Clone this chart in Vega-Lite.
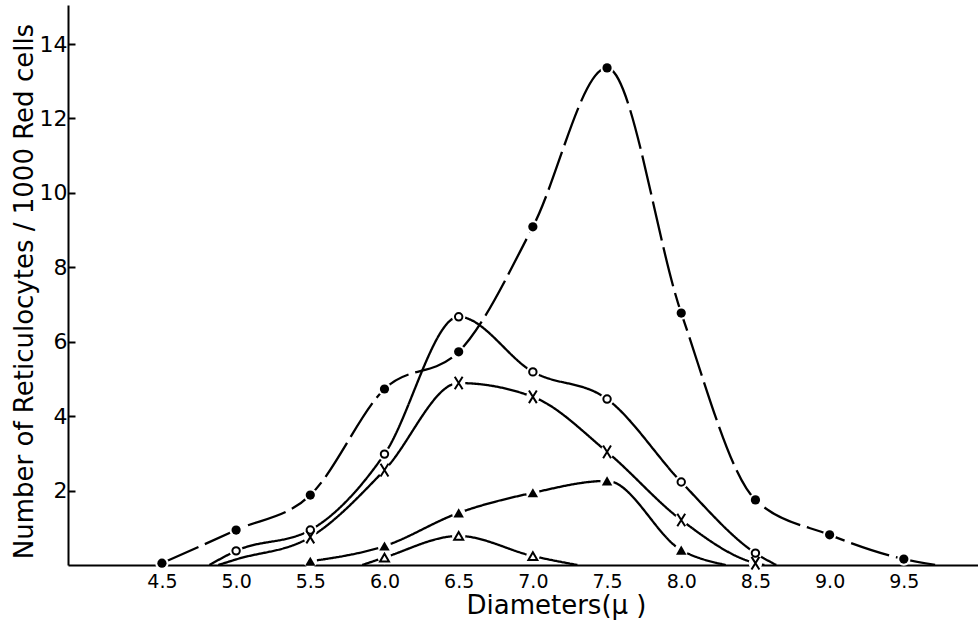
{
  "$schema": "https://vega.github.io/schema/vega-lite/v6.json",
  "width": 910,
  "height": 560,
  "autosize": "none",
  "padding": {"left": 68, "top": 5, "right": 0, "bottom": 59},
  "background": "white",
  "config": {
    "view": {"stroke": null},
    "font": "DejaVu Sans",
    "axis": {"grid": false, "domainColor": "black", "domainWidth": 2, "tickColor": "black", "tickWidth": 2, "labelColor": "black", "titleColor": "black", "titleFontWeight": "normal"}
  },
  "data": {
    "values": [
      {"series": "A", "x": 4.5, "y": 0.05, "pt": true},
      {"series": "A", "x": 5.0, "y": 0.94, "pt": true},
      {"series": "A", "x": 5.5, "y": 1.88, "pt": true},
      {"series": "A", "x": 6.0, "y": 4.73, "pt": true},
      {"series": "A", "x": 6.5, "y": 5.73, "pt": true},
      {"series": "A", "x": 7.0, "y": 9.09, "pt": true},
      {"series": "A", "x": 7.5, "y": 13.36, "pt": true},
      {"series": "A", "x": 8.0, "y": 6.77, "pt": true},
      {"series": "A", "x": 8.5, "y": 1.75, "pt": true},
      {"series": "A", "x": 9.0, "y": 0.81, "pt": true},
      {"series": "A", "x": 9.5, "y": 0.16, "pt": true},
      {"series": "A", "x": 9.72, "y": 0, "pt": false},
      {"series": "B", "x": 4.82, "y": 0, "pt": false},
      {"series": "B", "x": 5.0, "y": 0.38, "pt": true},
      {"series": "B", "x": 5.5, "y": 0.94, "pt": true},
      {"series": "B", "x": 6.0, "y": 2.98, "pt": true},
      {"series": "B", "x": 6.5, "y": 6.67, "pt": true},
      {"series": "B", "x": 7.0, "y": 5.19, "pt": true},
      {"series": "B", "x": 7.5, "y": 4.46, "pt": true},
      {"series": "B", "x": 8.0, "y": 2.23, "pt": true},
      {"series": "B", "x": 8.5, "y": 0.32, "pt": true},
      {"series": "B", "x": 8.64, "y": 0, "pt": false},
      {"series": "C", "x": 4.88, "y": 0, "pt": false},
      {"series": "C", "x": 5.0, "y": 0.15, "pt": false},
      {"series": "C", "x": 5.5, "y": 0.75, "pt": true},
      {"series": "C", "x": 6.0, "y": 2.55, "pt": true},
      {"series": "C", "x": 6.5, "y": 4.89, "pt": true},
      {"series": "C", "x": 7.0, "y": 4.52, "pt": true},
      {"series": "C", "x": 7.5, "y": 3.04, "pt": true},
      {"series": "C", "x": 8.0, "y": 1.21, "pt": true},
      {"series": "C", "x": 8.5, "y": 0.05, "pt": true},
      {"series": "C", "x": 8.56, "y": 0, "pt": false},
      {"series": "D", "x": 5.5, "y": 0.1, "pt": true},
      {"series": "D", "x": 6.0, "y": 0.51, "pt": true},
      {"series": "D", "x": 6.5, "y": 1.4, "pt": true},
      {"series": "D", "x": 7.0, "y": 1.94, "pt": true},
      {"series": "D", "x": 7.5, "y": 2.26, "pt": true},
      {"series": "D", "x": 8.0, "y": 0.4, "pt": true},
      {"series": "D", "x": 8.3, "y": 0, "pt": false},
      {"series": "E", "x": 5.85, "y": 0, "pt": false},
      {"series": "E", "x": 6.0, "y": 0.2, "pt": true},
      {"series": "E", "x": 6.5, "y": 0.78, "pt": true},
      {"series": "E", "x": 7.0, "y": 0.24, "pt": true},
      {"series": "E", "x": 7.3, "y": 0, "pt": false}
    ]
  },
  "encoding": {
    "x": {
      "field": "x", "type": "quantitative",
      "scale": {"domain": [3.867, 10.0], "nice": false, "zero": false},
      "axis": {"values": [4.5, 5.0, 5.5, 6.0, 6.5, 7.0, 7.5, 8.0, 8.5, 9.0, 9.5], "format": ".1f", "ticks": false, "labelPadding": 7, "labelFontSize": 19, "title": "Diameters(μ )", "titleFontSize": 26, "titleX": 488, "titleY": 48, "titleBaseline": "alphabetic", "titleAlign": "center"}
    },
    "y": {
      "field": "y", "type": "quantitative",
      "scale": {"domain": [0, 15.05], "nice": false},
      "axis": {"values": [2, 4, 6, 8, 10, 12, 14], "tickSize": -7, "labelPadding": 8, "labelFontSize": 22, "title": "Number of Reticulocytes / 1000 Red cells", "titleFontSize": 26, "titleX": -36, "titleY": 286, "titleBaseline": "alphabetic", "titleAlign": "center", "titleAngle": -90}
    }
  },
  "layer": [
    {
      "mark": {"type": "line", "interpolate": "monotone", "color": "black", "strokeWidth": 2.3, "clip": true},
      "encoding": {
        "detail": {"field": "series"},
        "strokeDash": {"field": "series", "type": "nominal", "legend": null,
          "scale": {"domain": ["A", "B", "C", "D", "E"], "range": [[40, 7], [1, 0], [1, 0], [1, 0], [1, 0]]}}
      }
    },
    {
      "transform": [{"filter": "datum.pt"}],
      "mark": {"type": "point", "shape": "circle", "filled": true, "color": "white", "size": 180, "opacity": 1}
    },
    {
      "transform": [{"filter": "datum.pt && datum.series == 'A'"}],
      "mark": {"type": "point", "shape": "circle", "filled": true, "color": "black", "size": 85, "opacity": 1}
    },
    {
      "transform": [{"filter": "datum.pt && datum.series == 'B'"}],
      "mark": {"type": "point", "shape": "circle", "fill": "white", "stroke": "black", "strokeWidth": 2, "size": 55, "opacity": 1}
    },
    {
      "transform": [{"filter": "datum.pt && datum.series == 'C'"}],
      "mark": {"type": "point", "shape": "M-0.75,-1.2L0.75,1.2M0.75,-1.2L-0.75,1.2", "fill": null, "stroke": "black", "strokeWidth": 2, "size": 110, "opacity": 1}
    },
    {
      "transform": [{"filter": "datum.pt && datum.series == 'D'"}],
      "mark": {"type": "point", "shape": "triangle-up", "filled": true, "color": "black", "size": 110, "opacity": 1}
    },
    {
      "transform": [{"filter": "datum.pt && datum.series == 'E'"}],
      "mark": {"type": "point", "shape": "triangle-up", "fill": "white", "stroke": "black", "strokeWidth": 2, "size": 80, "opacity": 1}
    }
  ]
}
